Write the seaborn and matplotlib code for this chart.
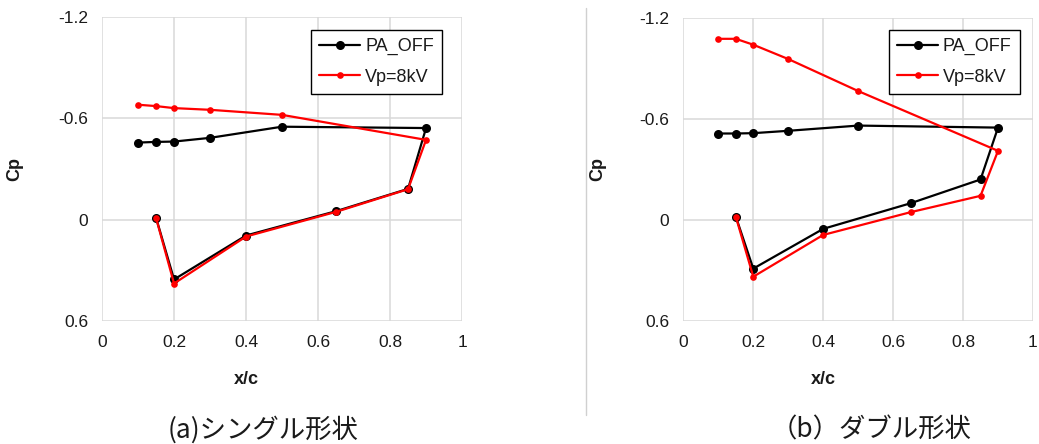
import matplotlib
matplotlib.use("Agg")
import matplotlib.pyplot as plt
from matplotlib.lines import Line2D
import seaborn as sns

# Chordwise stations, upper surface from leading edge to trailing edge, then lower surface back
x_c = [0.1, 0.15, 0.2, 0.3, 0.5, 0.9, 0.85, 0.65, 0.4, 0.2, 0.15]

# (a) single configuration
single_pa_off = [-0.456, -0.46, -0.462, -0.484, -0.55, -0.542, -0.182, -0.05, 0.094, 0.354, -0.012]
single_vp8 = [-0.68, -0.672, -0.66, -0.65, -0.62, -0.472, -0.18, -0.046, 0.10, 0.378, -0.01]

# (b) double configuration
double_pa_off = [-0.513, -0.513, -0.515, -0.529, -0.56, -0.548, -0.24, -0.099, 0.053, 0.289, -0.02]
double_vp8 = [-1.075, -1.075, -1.04, -0.955, -0.765, -0.41, -0.143, -0.046, 0.089, 0.337, -0.02]

series_names = ["PA_OFF", "Vp=8kV"]
x_ticks = [0, 0.2, 0.4, 0.6, 0.8, 1.0]
x_tick_labels = ["0", "0.2", "0.4", "0.6", "0.8", "1"]
y_ticks = [-1.2, -0.6, 0, 0.6]
y_tick_labels = ["-1.2", "-0.6", "0", "0.6"]
captions = ["(a)シングル形状", "（b）ダブル形状"]

sns.set_style("white")
plt.rcParams["font.family"] = ["Liberation Sans", "DejaVu Sans"]

fig = plt.figure(figsize=(10.39, 4.44), dpi=100)
ax_a = fig.add_axes([0.0982, 0.277, 0.3465, 0.685])
ax_b = fig.add_axes([0.6577, 0.277, 0.3365, 0.683])

panels = [
    (ax_a, single_pa_off, single_vp8, (0.944, 0.957)),
    (ax_b, double_pa_off, double_vp8, (0.962, 0.960)),
]

text_color = "#1a1a1a"
grid_color = "#d9d9d9"

for ax, pa_off, vp8, legend_anchor in panels:
    sns.lineplot(x=x_c, y=pa_off, sort=False, estimator=None, color="black",
                 marker="o", markersize=6.5, markeredgewidth=0, linewidth=1.6,
                 label=series_names[0], ax=ax, zorder=3)
    sns.lineplot(x=x_c, y=vp8, sort=False, estimator=None, color="#ff0000",
                 marker="o", markersize=4.8, markeredgewidth=0, linewidth=1.6,
                 label=series_names[1], ax=ax, zorder=4)

    ax.set_xlim(0, 1)
    ax.set_ylim(0.6, -1.2)
    ax.set_xticks(x_ticks)
    ax.set_xticklabels(x_tick_labels)
    ax.set_yticks(y_ticks)
    ax.set_yticklabels(y_tick_labels)
    ax.tick_params(axis="both", length=0, labelsize=12.5, labelcolor=text_color, pad=10)
    ax.grid(True, color=grid_color, linewidth=1.1)
    ax.set_axisbelow(True)
    for spine in ax.spines.values():
        spine.set_visible(False)

    ax.set_xlabel("x/c", fontsize=13, fontweight="bold", color=text_color)
    ax.set_ylabel("Cp", fontsize=13, fontweight="bold", color=text_color)
    ax.xaxis.set_label_coords(0.40, -0.165)
    ax.yaxis.set_label_coords(-0.22, 0.5)

    handles = [
        Line2D([], [], color="black", marker="o", markersize=6.5, markeredgewidth=0, linewidth=1.6),
        Line2D([], [], color="#ff0000", marker="o", markersize=4.8, markeredgewidth=0, linewidth=1.6),
    ]
    leg = ax.legend(handles, series_names, loc="upper right", bbox_to_anchor=legend_anchor,
                    frameon=True, fancybox=False, edgecolor="black", framealpha=1,
                    fontsize=13, handlelength=2.3, handletextpad=0.25, labelspacing=0.75,
                    borderpad=0.45, borderaxespad=0)
    leg.get_frame().set_linewidth(1.0)
    for t in leg.get_texts():
        t.set_color(text_color)

# Divider between the two panels
fig.add_artist(Line2D([0.564, 0.564], [0.065, 0.982], transform=fig.transFigure,
                      color="#d0d0d0", linewidth=1.0))

# Panel captions
cjk = ["Noto Sans CJK JP", "DejaVu Sans"]
fig.text(0.253, 0.032, captions[0], ha="center", va="center", fontsize=19,
         family=cjk, color=text_color)
fig.text(0.838, 0.032, captions[1], ha="center", va="center", fontsize=19,
         family=cjk, color=text_color)

fig.savefig("out.png", dpi=100)
